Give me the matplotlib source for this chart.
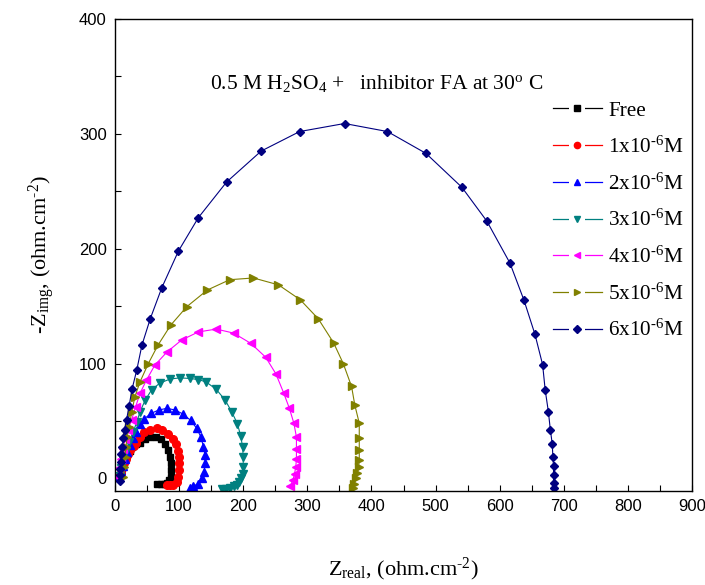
import matplotlib
matplotlib.use('Agg')
import matplotlib.pyplot as plt
from matplotlib.lines import Line2D
from matplotlib.legend_handler import HandlerTuple

plt.rcParams['font.family'] = 'Liberation Serif'
plt.rcParams['mathtext.fontset'] = 'custom'
plt.rcParams['mathtext.rm'] = 'Liberation Serif'
plt.rcParams['mathtext.it'] = 'Liberation Serif:italic'

# Nyquist data (Z real, -Z img), ohm.cm-2
free_re = [7, 9, 11, 13, 16, 19, 23, 27, 32, 39, 47, 55, 63.5, 71, 78, 83, 86, 87.5, 87.5, 87, 85, 81, 76, 71, 66]
free_im = [1, 5, 9, 13, 17, 20, 23.5, 27, 29.5, 30.5, 34, 36, 36, 34, 30, 24.5, 18.5, 13, 7, 1.5, -1.5, -4, -4.5, -4.5, -4.5]

c1_re = [7, 9, 11, 14, 17, 20, 24, 29, 33, 39, 46, 55, 65, 74, 83, 90, 95, 98, 100, 100.5, 100, 99, 96, 91, 86, 81]
c1_im = [1, 5, 9, 13, 17, 21, 25, 28, 31, 36, 40.5, 42.5, 43.5, 42, 39, 34.5, 29.5, 24, 18.5, 13, 7, 1, -3, -5.5, -6, -6]

c2_re = [7, 9, 12, 15, 19, 23, 28, 33, 39, 46, 56, 68, 81, 94, 106, 118, 127.5, 134, 138, 140.5, 140.5, 139, 135, 130, 122, 117]
c2_im = [1, 6, 11, 17, 23, 29, 35, 40, 47.5, 52, 56.5, 59.5, 61, 59.5, 56, 50.5, 43.5, 36, 27.5, 20, 13, 5.5, 0, -4.5, -7, -8]

c3_re = [8, 10, 13, 17, 22, 28, 34, 39, 47, 57, 70, 86, 101, 117, 130, 142, 158, 172, 182, 191, 196, 199, 200, 200, 199, 197, 194, 190, 185, 179, 173, 167]
c3_im = [2, 9, 16, 24, 32, 40, 49, 58, 68, 77, 83, 86.5, 87.5, 87, 86, 84, 77.5, 68, 58, 47.5, 37, 27.5, 18.5, 10, 4, 0, -3, -5.5, -7, -8.5, -9, -9.5]

c4_re = [5, 7, 9, 12, 16, 20, 26, 32, 39, 49, 62, 81, 104, 130, 158, 185, 212, 235, 251, 263, 272, 279, 283, 283, 283, 282, 280, 277.5, 273]
c4_im = [1, 9, 17, 26, 34, 42, 51, 62, 74, 85.5, 98.5, 110, 120.5, 127.5, 130, 126.5, 117.5, 105.5, 91, 74.5, 61, 48, 36, 26, 17, 10, 4, -1.5, -7]

c5_re = [13, 14, 15.5, 17, 19, 22, 26, 31, 39, 52, 67, 87, 112, 144, 179, 216, 255, 289, 317, 341, 356, 369, 374, 381, 381, 381, 381, 380, 378, 376, 373.5, 371]
c5_im = [1, 10, 18.5, 27, 36, 45, 57.5, 71, 84, 100, 116, 133.5, 149.5, 164, 173, 174.5, 168.5, 155.5, 139, 118, 100, 80, 64, 48, 35.5, 25, 16, 10, 4.5, 0, -4.5, -8]

c6_re = [8, 8, 8.5, 9, 9.5, 11, 13, 15, 18, 22, 26.5, 34, 42, 55, 73, 99, 130, 174, 228, 288, 358, 425, 485, 541, 580, 616, 638, 655, 667, 671, 676, 679, 682, 683, 684, 684, 684, 684]
c6_im = [-2, 3, 8.5, 14, 21, 27, 35, 42.5, 51, 63, 77.5, 94.5, 116, 139, 166, 198, 227, 258, 285, 302, 309, 302, 283, 253.5, 224, 187.5, 155, 125.5, 99, 77, 58, 42.5, 30, 19, 10.5, 2.6, -4, -8.5]

labels = ['Free', r'1x10$^{\text{-6}}$M', r'2x10$^{\text{-6}}$M',
          r'3x10$^{\text{-6}}$M', r'4x10$^{\text{-6}}$M',
          r'5x10$^{\text{-6}}$M', r'6x10$^{\text{-6}}$M']
series = [(free_re, free_im), (c1_re, c1_im), (c2_re, c2_im), (c3_re, c3_im),
          (c4_re, c4_im), (c5_re, c5_im), (c6_re, c6_im)]
colors = ['#000000', '#ff0000', '#0000ff', '#008080', '#ff00ff', '#808000', '#000080']
markers = ['s', 'o', '^', 'v', '<', '>', 'D']
sizes = [5, 5.5, 5.5, 5.5, 5.5, 5.5, 4.5]

fig = plt.figure(figsize=(7.05, 5.85), dpi=100)
ax = fig.add_axes([115/705, 1-491/585, 577/705, 472/585])

handles = []
for (xr, yi), c, m, s in zip(series, colors, markers, sizes):
    ax.plot(xr, yi, color=c, lw=0.8, marker=m, ms=s, mec=c, mfc=c)
    ln = Line2D([], [], color=c, lw=0.9)
    gap = Line2D([], [], ls='none', marker='s', ms=12, mfc='white', mec='white', mew=0)
    mk = Line2D([], [], ls='none', marker=m, ms=4.5, mfc=c, mec=c)
    handles.append((ln, gap, mk))

ax.set_xlim(0, 900)
ax.set_ylim(-11, 400)
ax.set_xticks(range(0, 901, 100))
ax.set_xticks(range(50, 900, 100), minor=True)
ax.set_yticks(range(0, 401, 100))
ax.set_yticks(range(50, 400, 100), minor=True)
ax.tick_params(which='both', direction='in', length=4.5, width=0.8, top=False, right=False)
ax.tick_params(which='major', labelsize=12, pad=6)
for lab in ax.get_xticklabels() + ax.get_yticklabels():
    lab.set_fontfamily('Liberation Sans')
for sp in ax.spines.values():
    sp.set_linewidth(1.0)

ax.set_xlabel(r'Z$_{\mathregular{real}}$, (ohm.cm$^{\text{-2}}$)', fontsize=16, labelpad=30)
ax.set_ylabel(r'-Z$_{\mathregular{img}}$, (ohm.cm$^{\text{-2}}$)', fontsize=16, labelpad=16)

ax.text(148, 344, r'0.5 M H$_{\mathregular{2}}$SO$_{\mathregular{4}}$ +   inhibitor FA at 30$^{\mathregular{o}}$ C',
        fontsize=15.5, ha='left', va='center')

fig.legend(handles, labels, handler_map={tuple: HandlerTuple(ndivide=1)},
           loc='upper left', bbox_to_anchor=(553/705, 1-101/585), frameon=False,
           fontsize=15.3, handlelength=2.3, handletextpad=0.3, labelspacing=0.73,
           borderpad=0, borderaxespad=0)

fig.savefig('out.png', dpi=100)
